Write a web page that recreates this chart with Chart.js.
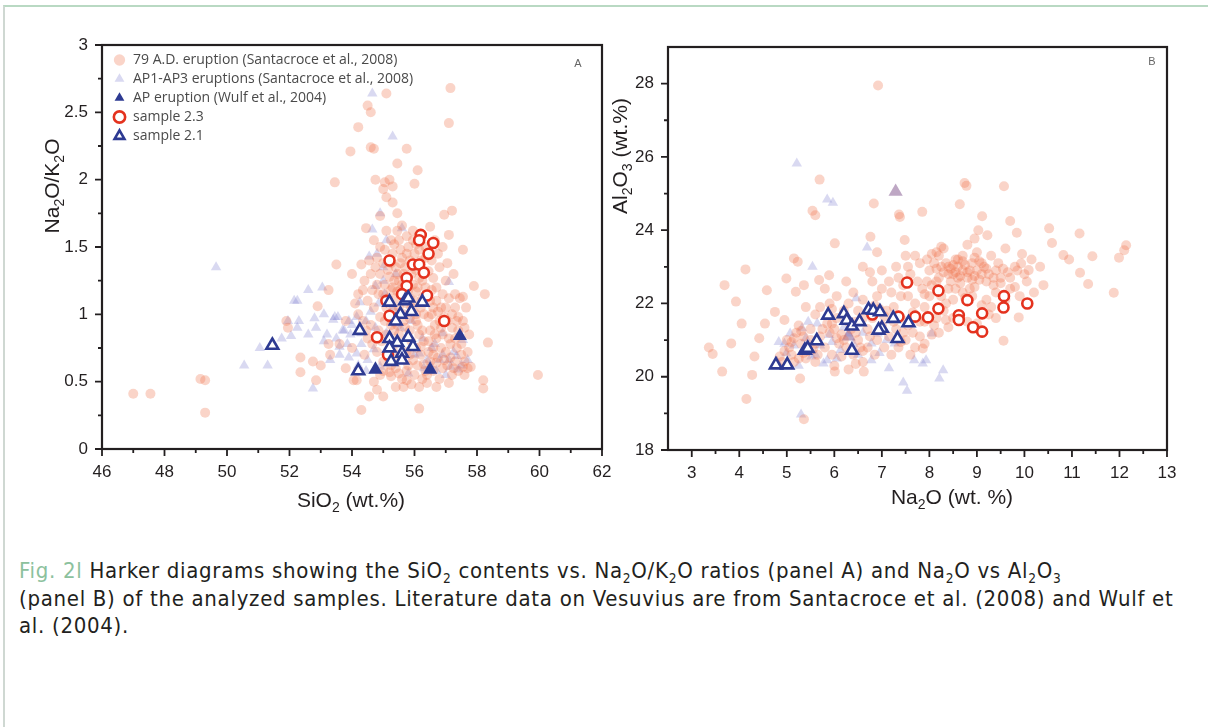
<!DOCTYPE html>
<html>
<head>
<meta charset="utf-8">
<script src="https://cdn.jsdelivr.net/npm/chart.js@4.4.1/dist/chart.umd.min.js"></script>
<style>
  html, body { margin: 0; padding: 0; background: #fff; }
  body { width: 1208px; height: 727px; position: relative; overflow: hidden; }
  .frame { position: absolute; left: 3px; top: 5px; right: -4px; bottom: -4px;
           border-top: 2px solid #b9d9c3; border-left: 2px solid #cfd8d2; }
  #panelA { position: absolute; left: 0; top: 0; }
  #panelB { position: absolute; left: 610px; top: 0; }
  #caption { position: absolute; left: 19px; top: 557px; color: #231f20;
             font-family: "DejaVu Sans Condensed", "DejaVu Sans", sans-serif; font-stretch: condensed;
             font-size: 22px; letter-spacing: 0.7px; line-height: 27.5px; white-space: nowrap; }
  #caption .fig { color: #8cc19d; }
  #caption sub { font-size: 62%; vertical-align: -0.4em; line-height: 0; }
</style>
</head>
<body>
<div class="frame"></div>
<canvas id="panelA" width="625" height="520"></canvas>
<canvas id="panelB" width="598" height="520"></canvas>
<div id="caption"><span class="fig">Fig. 2l</span> Harker diagrams showing the SiO<sub>2</sub> contents vs. Na<sub>2</sub>O/K<sub>2</sub>O ratios (panel A) and Na<sub>2</sub>O vs Al<sub>2</sub>O<sub>3</sub><br>(panel B) of the analyzed samples. Literature data on Vesuvius are from Santacroce et al. (2008) and Wulf et<br>al. (2004).</div>
<script>
// ===================================
// Harker diagrams - panel A (SiO2 vs Na2O/K2O) and panel B (Na2O vs Al2O3)
// ===================================

// Ticks panel A
const xTicksA = [46, 48, 50, 52, 54, 56, 58, 60, 62];
const xMinorA = [47, 49, 51, 53, 55, 57, 59, 61];
const yTicksA = [0, 0.5, 1, 1.5, 2, 2.5, 3];
const yMinorA = [0.25, 0.75, 1.25, 1.75, 2.25, 2.75];

// Ticks panel B
const xTicksB = [3, 4, 5, 6, 7, 8, 9, 10, 11, 12, 13];
const xMinorB = [3.5, 4.5, 5.5, 6.5, 7.5, 8.5, 9.5, 10.5, 11.5, 12.5];
const yTicksB = [18, 20, 22, 24, 26, 28];
const yMinorB = [19, 21, 23, 25, 27];

const seriesNames = [
    '79 A.D. eruption (Santacroce et al., 2008)',
    'AP1-AP3 eruptions (Santacroce et al., 2008)',
    'AP eruption (Wulf et al., 2004)',
    'sample 2.3',
    'sample 2.1'
];

// Panel A: [SiO2, Na2O/K2O]
const ad79A = [
    [47.0,0.41],[47.55,0.41],[49.15,0.52],[49.3,0.51],[49.3,0.27],
    [51.9,0.95],[51.95,0.90],[52.35,0.68],[52.35,0.57],[52.75,0.65],[52.85,0.51],[52.9,1.06],
    [53.25,1.18],[53.25,0.78],[53.5,1.37],[53.0,0.62],[53.3,0.70],
    [53.45,1.98],[53.95,2.21],[54.2,2.39],[54.5,2.55],[54.6,2.50],[54.6,2.24],[54.7,2.23],[55.1,2.64],
    [54.75,2.00],[55.05,1.98],[55.0,1.93],[55.2,2.00],[55.3,1.95],[55.45,2.12],[55.75,2.23],[56.1,2.07],
    [56.0,1.97],[55.45,1.75],[54.45,1.64],[54.9,1.73],[57.15,2.68],[57.1,2.42],[56.95,1.74],[57.2,1.77],
    [57.1,1.59],[57.55,1.48],[55.1,1.87],[55.3,1.83],[55.6,1.66],[56.5,1.65],[54.3,1.37],
    [57.9,1.21],[58.25,1.15],[58.35,0.79],[57.7,0.60],[57.8,0.61],[58.2,0.51],[58.2,0.45],[59.95,0.55],
    [57.55,1.13],[57.6,0.90],[57.4,0.98],
    [56.15,0.30],[54.3,0.29],[54.55,0.39],[54.8,0.44],[55.0,0.39],[55.4,0.46],[55.65,0.46],[55.75,0.51],
    [56.15,0.46],[56.4,0.49],[56.7,0.46],[57.1,0.49],[54.05,0.51],[55.25,0.54],[57.55,0.61],[54.15,0.51],
    [53.8,0.60],[54.2,0.58],
    [54.7,1.55],[54.9,1.50],[55.1,1.62],[55.3,1.45],[55.5,1.55],[55.6,1.42],[55.8,1.50],[56.0,1.45],
    [55.4,1.35],[55.0,1.38],[54.6,1.30],[54.4,1.25],[54.8,1.22],[55.2,1.28],[55.5,1.25],[55.9,1.30],
    [56.1,1.20],[56.6,1.27],[56.8,1.35],[57.0,1.25],[56.9,1.50],[54.0,1.30],[54.2,1.15],[54.5,1.10],
    [55.0,1.15],[55.4,1.12],[55.8,1.18],[56.2,1.05],[56.7,1.10],[57.0,1.05],[57.3,1.15],[57.2,0.90],
    [56.8,0.95],[56.5,0.88],[56.1,0.92],[55.7,0.90],[55.3,0.95],[54.9,0.98],[54.6,0.92],[54.2,1.00],
    [53.8,0.95],[53.6,0.78],[54.0,0.75],[54.4,0.70],[54.8,0.72],[55.0,0.65],[55.4,0.60],[55.8,0.62],
    [56.2,0.70],[56.6,0.75],[57.0,0.72],[57.3,0.65],[57.5,0.78],[56.9,0.60],[56.4,0.55],[56.0,0.55],
    [55.6,0.52],[55.2,0.57],[54.7,0.50],[56.7,0.82],[56.3,0.80],[55.9,0.80],[56.0,1.10],[56.3,1.00],
    [55.5,1.05],[55.1,1.05],[54.7,1.05],[57.6,0.55],[57.2,0.55],[55.7,1.35],[55.6,1.22],[56.4,1.15],
    [55.9,1.05],[55.3,1.20],[54.9,1.30],[56.2,1.40],[56.6,1.05],[57.2,1.00],[56.9,0.85],[55.5,0.85],
    [55.1,0.85],[54.5,0.82],[57.3,0.82],[56.5,0.65],[55.6,0.70],[55.3,0.75],[56.1,0.62],[57.4,0.58],
    [55.9,0.48],[55.0,0.58],[56.6,0.58],
    [55.35,1.52],[55.55,1.48],[55.75,1.58],[55.95,1.55],[56.35,1.50],[56.55,1.40],[56.75,1.45],[55.15,1.33],
    [55.45,1.30],[55.65,1.30],[55.85,1.40],[56.05,1.33],[56.25,1.25],[56.45,1.32],[56.7,1.20],[56.9,1.15],
    [57.1,1.12],[55.25,1.18],[55.45,1.17],[55.65,1.15],[55.85,1.12],[56.05,1.17],[56.25,1.12],[56.5,1.10],
    [56.85,1.05],[55.15,1.12],[54.85,1.15],[54.65,1.18],[55.35,1.02],[55.65,1.00],[55.85,0.97],[56.05,1.00],
    [56.45,0.98],[56.65,0.92],[57.05,0.95],[57.3,1.05],[57.45,1.12],[55.45,0.92],[55.85,0.88],[56.25,0.88],
    [56.65,0.85],[57.1,0.82],[57.35,0.75],[56.85,0.75],[56.45,0.72],[56.05,0.75],[55.75,0.72],[55.45,0.70],
    [55.15,0.68],[54.95,0.80],[54.65,0.78],[54.45,0.88],[54.35,0.95],[54.1,1.08],[54.35,1.18],[54.55,1.40],
    [54.8,1.42],[55.05,1.48],[57.05,0.62],[56.75,0.68],[56.3,0.63],[55.95,0.66],[57.5,0.70],[57.6,0.65],
    [57.25,0.60],[56.8,0.52],[56.25,0.52],[55.5,0.56],[54.9,0.55],[57.7,0.72],[57.55,0.95],[57.65,1.05],
    [57.75,0.85],
    [55.25,1.38],[55.55,1.38],[55.75,1.45],[56.05,1.52],[56.35,1.42],[55.35,1.25],[55.55,1.18],[55.75,1.08],
    [56.15,1.27],[56.35,1.20],[56.55,1.18],[56.75,1.02],[56.95,0.98],[55.25,0.92],[55.65,0.95],[56.15,0.85],
    [56.45,0.80],[56.85,0.90],[57.15,0.78],[56.6,0.70],[56.2,0.76],[55.85,0.70],[55.35,0.88],[55.05,0.95],
    [54.85,0.88],[55.05,1.22],[54.75,1.35],[55.25,1.55],[55.45,1.62],[55.95,1.62],[56.15,1.48],[56.65,1.55],
    [57.05,1.38],[57.25,1.30],[57.4,0.88],[57.15,0.68],[56.95,0.66],[56.35,0.58],[55.75,0.58],[55.25,0.62],
    [56.7,0.64],[57.35,0.95],[56.05,0.95],[55.95,1.22],[56.55,1.00]
];
const ap13A = [
    [49.65,1.35],[50.55,0.62],[51.3,0.62],[51.05,0.75],[51.75,0.82],[52.15,1.10],[52.6,1.18],[53.05,1.20],
    [52.25,1.10],[51.95,0.95],[52.3,0.95],[52.8,0.97],[52.85,0.90],[52.25,0.90],[52.75,0.45],[53.1,1.00],
    [53.4,0.96],[53.55,0.98],[53.75,0.88],[53.85,0.78],[53.6,0.76],[53.3,0.66],[54.15,0.71],[54.65,2.64],
    [55.3,2.32],[54.9,1.75],[54.65,1.63],[55.6,1.64],[54.55,1.43],[54.75,1.21],[57.1,1.24],[56.65,0.78],
    [57.15,0.61],[57.35,0.69],[56.8,0.66],[56.3,0.60],[55.8,0.56],[54.9,0.61],[54.5,0.66],[54.7,0.74],
    [57.55,0.81],[56.9,0.86],[56.15,0.71],[55.1,0.86],[55.4,0.93],[54.15,0.98],[54.25,1.09],[55.4,1.30],
    [57.4,0.59],[57.7,0.66],[53.45,0.98],[53.9,0.95],[53.7,0.88],[55.0,1.35],[56.9,0.70],[57.0,0.55],
    [56.5,0.62],[54.0,0.92],[53.2,0.85],[54.3,0.78],
    [53.5,0.82],[53.95,0.85],[54.3,0.86],[54.45,0.95],[54.6,1.02],[54.85,1.08],[55.05,1.15],[55.3,1.05],
    [55.55,0.90],[55.75,0.82],[56.0,0.70],[56.4,0.66],[56.7,0.58],[57.1,0.66],[57.25,0.72],[54.2,0.62],
    [54.45,0.58],[53.9,0.68],[53.6,0.70],[53.1,0.80],[52.6,0.85],[52.05,0.84],[54.8,1.45],[55.1,1.55],
    [55.0,1.25],[54.75,0.90],[55.9,0.95],[56.25,0.82],[56.55,0.75],[57.5,0.62]
];
const apWulfA = [[54.75,0.59],[56.5,0.59],[57.45,0.84]];
const s23A = [
    [55.2,1.40],[56.2,1.59],[56.15,1.55],[56.6,1.53],[56.45,1.45],[55.95,1.37],[56.15,1.37],[56.3,1.31],
    [55.75,1.27],[55.75,1.21],[55.6,1.15],[56.4,1.14],[55.1,1.10],[55.2,0.99],[56.95,0.95],[54.8,0.83],
    [55.15,0.70]
];
const s21A = [
    [51.45,0.77],[54.25,0.88],[54.2,0.58],[55.2,1.09],[55.7,1.10],[55.8,1.12],[56.25,1.09],[55.9,1.02],
    [55.55,1.00],[55.4,0.95],[55.2,0.82],[55.45,0.79],[55.8,0.83],[55.95,0.76],[55.2,0.75],[55.6,0.71],
    [55.25,0.65],[55.6,0.66]
];

// Panel B: [Na2O, Al2O3]
const ad79B = [
    [6.92,27.95],[5.69,25.38],[8.74,25.29],[8.78,25.21],[9.57,25.2],[6.83,24.73],[8.64,24.71],[5.54,24.53],
    [5.6,24.41],[7.36,24.43],[7.38,24.36],[7.85,24.5],[9.11,24.38],[9.7,24.25],[10.52,24.05],[11.16,23.91],
    [9.84,23.93],[10.58,23.65],[12.14,23.59],[12.1,23.45],[9.03,24.0],[9.22,23.86],[8.95,23.77],[10.82,23.32],
    [10.94,23.2],[11.43,23.29],[11.99,23.25],[11.17,22.84],[11.34,22.53],[11.88,22.29],[10.33,23.0],[9.93,23.09],
    [10.09,22.91],[9.56,20.98],[9.88,21.62],[6.76,23.82],[6.01,23.64],[7.48,23.73],[8.25,23.55],[5.15,23.23],
    [5.23,23.14],[4.13,22.93],[3.69,22.5],[4.58,22.36],[3.93,22.05],[4.05,21.45],[3.36,20.8],[3.44,20.62],
    [3.64,20.14],[3.83,20.91],[4.27,20.05],[4.15,19.39],[4.54,21.45],[4.42,21.05],[4.32,20.55],[4.99,22.68],
    [5.19,22.32],[5.36,22.5],[5.68,22.64],[5.89,22.77],[5.28,19.95],[5.36,18.84],[4.75,21.77],[4.95,21.55],
    [6.01,20.14],[6.62,20.14],[7.86,20.77],
    [5.0,21.0],[5.2,21.2],[5.3,20.9],[5.5,21.3],[5.7,21.1],[5.8,20.8],[6.0,21.3],[6.1,20.9],[6.3,21.5],
    [6.4,20.6],[6.5,21.0],[5.1,20.6],[4.9,20.4],[5.4,20.5],[6.6,20.4],[6.7,20.8],[6.9,21.0],[6.2,21.8],
    [5.6,21.7],[5.9,22.0],[6.4,22.3],[6.6,22.1],[6.8,22.6],[7.0,22.4],[7.1,21.8],[7.3,21.3],[7.5,21.0],
    [7.2,20.6],[7.6,20.6],[7.8,21.1],[7.9,21.5],[7.7,22.0],[7.4,22.2],[7.6,22.8],[7.3,23.0],[7.8,23.1],
    [8.0,22.9],[8.1,23.1],[8.2,22.7],[8.4,23.0],[8.5,22.8],[8.6,23.0],[8.7,22.9],[8.8,22.7],[8.9,23.1],
    [9.0,22.9],[9.1,22.8],[9.2,22.6],[9.4,22.9],[9.5,22.7],[9.3,23.3],[9.0,23.4],[8.6,23.2],[8.3,23.5],
    [8.4,22.4],[8.7,22.3],[8.9,22.2],[9.2,22.1],[9.3,21.9],[8.5,22.1],[8.3,21.8],[8.0,22.2],[7.9,21.9],
    [8.1,21.4],[8.5,21.6],[8.8,21.5],[9.4,21.6],[9.7,22.4],[9.9,22.2],[10.0,22.8],[9.8,23.0],[9.6,23.5],
    [8.8,23.6],[8.2,23.3],[7.7,23.3],[7.0,22.9],[6.9,23.4],[6.6,23.0],[7.4,21.6],[7.0,21.4],[6.8,21.6],
    [6.5,21.8],[5.8,22.4],[5.4,21.9],[6.0,20.3],[6.3,20.2],[5.6,20.4],[7.9,20.9],[8.2,21.2],[10.2,22.3],
    [8.45,22.95],[8.55,22.85],[8.75,23.05],[8.65,22.75],[9.05,22.65],[7.95,22.6],[8.15,22.95],[5.25,21.4],
    [5.55,20.75],[6.15,21.15],[5.95,20.6],[6.7,21.3],[7.15,21.1],[9.6,22.1],[9.1,21.2],[7.55,21.4],
    [5.05,20.8],[5.15,21.05],[5.35,21.1],[5.45,20.7],[5.65,20.6],[5.75,21.3],[5.85,21.45],[6.05,21.05],
    [6.25,20.8],[6.35,21.3],[6.55,20.8],[6.75,21.1],[6.05,21.6],[5.7,21.9],[5.15,20.4],[4.95,20.7],
    [4.85,20.55],[5.25,20.5],[6.45,20.35],[6.85,20.6],[7.05,20.8],[7.35,20.8],[7.45,21.2],[7.65,21.2],
    [7.7,20.8],[7.25,21.9],[7.55,22.2],[7.45,22.5],[7.85,22.4],[8.05,22.5],[8.25,22.2],[8.45,22.6],
    [8.55,23.2],[8.7,23.3],[8.85,22.9],[8.95,22.45],[9.15,23.0],[9.25,22.8],[9.35,22.5],[9.55,22.95],
    [9.7,22.7],[9.8,22.45],[9.05,23.15],[8.35,23.1],[8.15,23.4],[7.95,23.2],[8.65,22.55],[8.9,22.65],
    [9.45,23.1],[8.75,22.15],[9.1,21.95],[8.35,22.0],[7.9,22.25],[7.65,21.75],[8.15,21.6],[8.05,21.15],
    [8.4,21.35],[9.0,21.45],[9.25,21.7],[6.9,22.2],[7.15,22.6],[6.75,22.85],[7.5,23.3],[6.25,22.6],
    [6.05,22.2],[5.95,21.85],[6.45,21.5],[6.85,21.95],[10.4,22.5],[10.15,23.2],[9.95,23.35],
    [5.1,20.95],[5.3,21.25],[5.5,21.0],[5.6,20.9],[5.9,21.2],[6.2,21.0],[6.45,21.2],[6.6,20.7],
    [5.35,20.65],[5.95,21.45],[6.15,20.55],[7.05,21.65],[7.25,21.5],[7.4,20.95],[8.3,22.85],[8.5,23.05],
    [8.6,22.7],[8.7,23.15],[8.8,22.85],[8.95,22.75],[9.1,23.1],[9.2,22.95],[9.35,22.7],[8.4,22.8],
    [8.25,23.0],[8.95,23.25],[9.5,22.55],[8.55,22.4],[8.15,22.6],[7.75,22.6],[7.35,22.7],[7.55,23.0],
    [8.05,23.35],[9.65,22.85],[9.85,22.9],[10.05,22.6],[8.85,22.4],[9.4,22.3],[7.8,21.5],[8.35,21.55],
    [7.2,22.3],[6.95,21.85],[6.6,21.6],[6.3,22.0]
];
const ap13B = [
    [5.21,25.82],[5.85,24.84],[5.97,24.75],[6.69,23.53],[5.54,23.0],[6.46,22.14],[4.99,20.64],[4.83,20.95],
    [5.52,20.55],[5.77,20.36],[6.05,20.5],[6.78,20.45],[7.15,20.23],[7.68,20.45],[7.93,20.45],[7.86,20.36],
    [8.21,19.95],[8.29,20.18],[7.45,19.84],[7.53,19.62],[5.3,18.97],[8.05,21.18],[5.07,21.18],[5.64,21.45],
    [5.89,21.14],[6.13,20.73],[6.78,20.91],[6.91,21.18],[5.6,20.6],[7.27,20.91],[5.32,21.32],[6.3,21.18],
    [5.15,20.85],[5.4,21.05],[5.7,20.85],[5.95,20.95],[6.2,21.35],[6.5,20.6],[6.6,21.2],[5.45,21.5],
    [5.85,20.45],[5.25,20.3],[6.95,20.65],[7.1,21.0],[4.95,20.9],[6.4,20.9]
];
const apWulfB = [[4.79,20.35],[7.29,25.05],[6.3,21.1]];
const s23B = [
    [7.53,22.57],[8.19,22.35],[8.19,21.86],[8.8,22.09],[7.97,21.62],[7.7,21.64],[7.35,21.64],[8.62,21.68],
    [8.62,21.55],[9.11,21.73],[8.92,21.35],[9.11,21.23],[9.57,22.2],[9.56,21.89],[10.06,22.0],[6.8,21.7]
];
const s21B = [
    [4.77,20.32],[5.01,20.32],[5.38,20.72],[5.44,20.77],[5.63,20.98],[5.87,21.68],[6.2,21.72],[6.26,21.54],
    [6.37,21.38],[6.53,21.5],[6.37,20.72],[6.72,21.83],[6.82,21.81],[6.96,21.77],[7.0,21.32],[6.93,21.27],
    [7.24,21.59],[7.33,21.04],[7.56,21.47]
];

const tickFont = { family: '"Liberation Sans", Arial, sans-serif', size: 17 };
const navy = '#2d3a92';
const red = '#e4321e';

function xy(arr) {
    return arr.map(p => ({ x: p[0], y: p[1] }));
}

// Dibujar texto con subíndices (Na_2O -> Na₂O)
function drawSubText(ctx, text, x, y, size, rotate) {
    const parts = text.split(/_(\d)/);
    const big = size + 'px "Liberation Sans", Arial, sans-serif';
    const small = Math.round(size * 0.68) + 'px "Liberation Sans", Arial, sans-serif';
    let total = 0;
    parts.forEach((p, i) => {
        ctx.font = i % 2 ? small : big;
        total += ctx.measureText(p).width;
    });
    ctx.save();
    ctx.translate(x, y);
    if (rotate) ctx.rotate(-Math.PI / 2);
    ctx.textBaseline = 'middle';
    ctx.textAlign = 'left';
    let cx = -total / 2;
    parts.forEach((p, i) => {
        ctx.font = i % 2 ? small : big;
        ctx.fillText(p, cx, i % 2 ? size * 0.32 : 0);
        cx += ctx.measureText(p).width;
    });
    ctx.restore();
}

// Marco, marcas de escala, títulos de ejes y leyenda dentro del área
const framePlugin = {
    id: 'framePlugin',
    beforeDraw(chart, args, opts) {
        if (opts.legendPos && chart.legend) {
            chart.legend.left = chart.chartArea.left + opts.legendPos[0];
            chart.legend.top = chart.chartArea.top + opts.legendPos[1];
        }
    },
    afterDraw(chart, args, opts) {
        const ctx = chart.ctx;
        const { left, right, top, bottom } = chart.chartArea;
        const xs = chart.scales.x;
        const ys = chart.scales.y;
        ctx.save();
        ctx.strokeStyle = '#231f20';
        ctx.lineWidth = 2.2;
        ctx.strokeRect(left, top, right - left, bottom - top);
        ctx.lineWidth = 1.8;
        ctx.beginPath();
        opts.xMajor.forEach(v => { const p = xs.getPixelForValue(v); ctx.moveTo(p, bottom); ctx.lineTo(p, bottom + 7); });
        opts.xMinor.forEach(v => { const p = xs.getPixelForValue(v); ctx.moveTo(p, bottom); ctx.lineTo(p, bottom + 4); });
        opts.yMajor.forEach(v => { const p = ys.getPixelForValue(v); ctx.moveTo(left, p); ctx.lineTo(left - 7, p); });
        opts.yMinor.forEach(v => { const p = ys.getPixelForValue(v); ctx.moveTo(left, p); ctx.lineTo(left - 4, p); });
        ctx.stroke();

        ctx.fillStyle = '#231f20';
        drawSubText(ctx, opts.xTitle, opts.xTitlePos[0], opts.xTitlePos[1], 21, false);
        drawSubText(ctx, opts.yTitle, opts.yTitlePos[0], opts.yTitlePos[1], 21, true);

        ctx.fillStyle = '#666';
        ctx.font = '11px "Liberation Sans", Arial, sans-serif';
        ctx.textAlign = 'center';
        ctx.textBaseline = 'middle';
        ctx.fillText(opts.letter, right - opts.letterPos[0], top + opts.letterPos[1]);
        ctx.restore();
    }
};

function makeDatasets(ad79, ap13, apWulf, s23, s21, apColor, apOrder) {
    return [
        { label: seriesNames[0], data: xy(ad79), pointStyle: 'circle', pointRadius: 5,
          backgroundColor: 'rgba(240,112,72,0.3)', borderColor: 'rgba(240,112,72,0)', borderWidth: 0, order: 4 },
        { label: seriesNames[1], data: xy(ap13), pointStyle: 'triangle', pointRadius: 6,
          backgroundColor: 'rgba(120,120,205,0.28)', borderColor: 'rgba(120,120,205,0)', borderWidth: 0, order: 5 },
        { label: seriesNames[2], data: xy(apWulf), pointStyle: 'triangle', pointRadius: 8.2,
          backgroundColor: apColor, borderColor: apColor, borderWidth: 0, order: apOrder },
        { label: seriesNames[3], data: xy(s23), pointStyle: 'circle', pointRadius: 5,
          backgroundColor: '#ffffff', borderColor: red, borderWidth: 2.6, order: 1 },
        { label: seriesNames[4], data: xy(s21), pointStyle: 'triangle', pointRadius: 6.8,
          backgroundColor: '#ffffff', borderColor: navy, borderWidth: 2.6, order: 0 }
    ];
}

function makeScale(min, max, ticks, fit, isX) {
    const s = {
        type: 'linear',
        min: min,
        max: max,
        grid: { display: false, drawTicks: false },
        border: { display: false },
        ticks: {
            font: tickFont, color: '#231f20', padding: isX ? 13 : 14, autoSkip: false, maxRotation: 0,
            callback: v => String(v)
        },
        afterBuildTicks: scale => { scale.ticks = ticks.map(v => ({ value: v })); }
    };
    if (isX) {
        s.afterFit = scale => { scale.height = fit; };
    } else {
        s.afterFit = scale => { scale.width = fit; };
    }
    return s;
}

Chart.defaults.font.family = '"Liberation Sans", Arial, sans-serif';

// Panel A
new Chart(document.getElementById('panelA'), {
    type: 'scatter',
    data: { datasets: makeDatasets(ad79A, ap13A, apWulfA, s23A, s21A, navy, 2) },
    options: {
        responsive: false,
        animation: false,
        events: [],
        layout: { padding: { left: 0, right: 23, top: 45, bottom: 0 } },
        scales: {
            x: makeScale(46, 62, xTicksA, 71, true),
            y: makeScale(0, 3, yTicksA, 102, false)
        },
        plugins: {
            tooltip: { enabled: false },
            legend: {
                position: 'chartArea',
                align: 'start',
                labels: {
                    usePointStyle: true,
                    boxWidth: 13,
                    boxHeight: 8,
                    padding: 5,
                    color: '#4a4a4a',
                    font: { family: '"Open Sans", Lato, sans-serif', size: 14 },
                    sort: (a, b) => a.datasetIndex - b.datasetIndex
                }
            },
            framePlugin: {
                legendPos: [6, 3],
                xMajor: xTicksA, xMinor: xMinorA, yMajor: yTicksA, yMinor: yMinorA,
                xTitle: 'SiO_2 (wt.%)', xTitlePos: [351, 501],
                yTitle: 'Na_2O/K_2O', yTitlePos: [53, 186],
                letter: 'A', letterPos: [24, 19]
            }
        }
    },
    plugins: [framePlugin]
});

// Panel B
new Chart(document.getElementById('panelB'), {
    type: 'scatter',
    data: { datasets: makeDatasets(ad79B, ap13B, apWulfB, s23B, s21B, 'rgba(110,60,125,0.45)', 6) },
    options: {
        responsive: false,
        animation: false,
        events: [],
        layout: { padding: { left: 0, right: 41, top: 47, bottom: 0 } },
        scales: {
            x: makeScale(2.5, 13, xTicksB, 70, true),
            y: makeScale(18, 29, yTicksB, 58, false)
        },
        plugins: {
            tooltip: { enabled: false },
            legend: { display: false },
            framePlugin: {
                xMajor: xTicksB, xMinor: xMinorB, yMajor: yTicksB, yMinor: yMinorB,
                xTitle: 'Na_2O (wt. %)', xTitlePos: [342, 498],
                yTitle: 'Al_2O_3 (wt.%)', yTitlePos: [11, 156],
                letter: 'B', letterPos: [15, 15]
            }
        }
    },
    plugins: [framePlugin]
});
</script>
</body>
</html>
